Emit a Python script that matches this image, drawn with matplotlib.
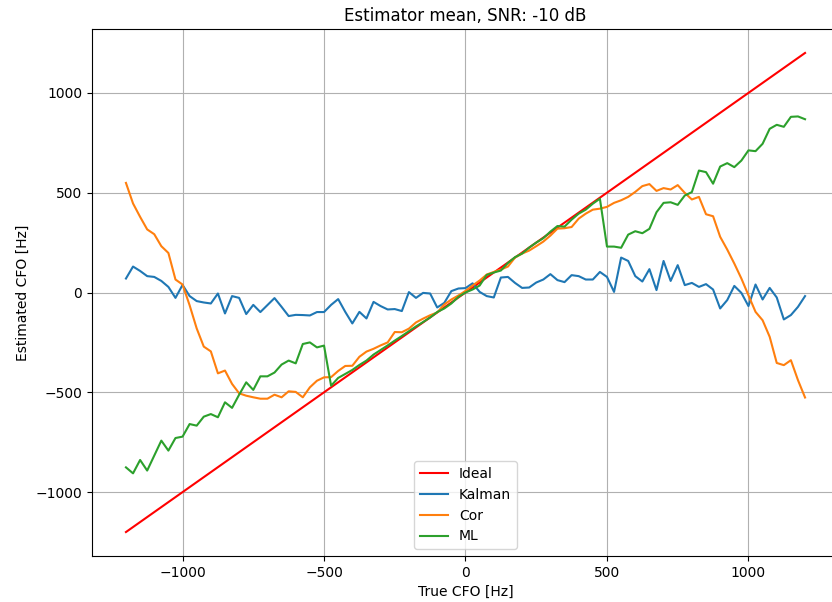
import numpy as np
import matplotlib
matplotlib.use("Agg")
import matplotlib.pyplot as plt

cfo = np.arange(-1200, 1201, 25)

ideal = cfo.copy()

kalman = [70, 130, 108, 82, 78, 58, 28, -27, 38, -18, -43, -50, -55, -5, -105, -18, -27, -108,
          -62, -98, -63, -28, -72, -118, -112, -113, -115, -98, -98, -62, -33, -97, -155, -97,
          -130, -47, -68, -85, -83, -93, 2, -27, -2, -5, -75, -52, 7, 20, 22, 46, 3, -18, -25,
          75, 78, 48, 23, 25, 50, 65, 92, 62, 52, 87, 82, 65, 65, 103, 78, 3, 175, 158, 82, 55,
          117, 12, 158, 58, 137, 37, 48, 28, 42, 15, -80, -38, 33, -2, -68, 40, -35, 23, -25,
          -135, -113, -72, -18]

cor = [549, 446, 379, 316, 292, 232, 198, 65, 40, -64, -180, -271, -295, -405, -391, -458, -505,
       -517, -525, -532, -532, -512, -525, -495, -498, -525, -475, -442, -425, -424, -393, -368,
       -367, -322, -296, -282, -265, -250, -198, -199, -181, -150, -131, -114, -100, -60, -35,
       -15, 8, 35, 60, 90, 103, 115, 130, 175, 195, 210, 232, 255, 285, 320, 322, 328, 370, 395,
       415, 420, 429, 449, 462, 479, 504, 533, 543, 509, 523, 516, 538, 499, 466, 479, 392, 382,
       279, 215, 145, 70, -14, -97, -139, -222, -353, -364, -339, -439, -526]

ml = [-876, -906, -839, -892, -817, -742, -792, -729, -722, -659, -667, -622, -609, -625, -550,
      -578, -512, -450, -488, -420, -420, -401, -361, -341, -355, -258, -250, -275, -266, -467,
      -428, -408, -388, -363, -341, -311, -288, -265, -241, -218, -194, -170, -148, -125, -98,
      -80, -55, -22, 0, 15, 35, 88, 100, 110, 148, 177, 195, 225, 250, 272, 305, 333, 330, 365,
      395, 415, 445, 470, 230, 230, 224, 290, 307, 297, 319, 402, 449, 452, 439, 486, 503, 611,
      603, 545, 631, 648, 628, 661, 712, 708, 745, 820, 840, 830, 880, 882, 868]

fig = plt.figure(figsize=(8.32, 6.02), dpi=100)
ax = fig.add_axes([92/832, 1-556/602, 747/832, (556-29)/602])

ax.plot(cfo, ideal, color='red', label='Ideal')
ax.plot(cfo, kalman, color='#1f77b4', label='Kalman')
ax.plot(cfo, cor, color='#ff7f0e', label='Cor')
ax.plot(cfo, ml, color='#2ca02c', label='ML')

ax.set_title('Estimator mean, SNR: -10 dB')
ax.set_xlabel('True CFO [Hz]')
ax.set_ylabel('Estimated CFO [Hz]')
ax.grid(True)
ax.legend(loc='lower center')

fig.savefig('out.png', dpi=100)
